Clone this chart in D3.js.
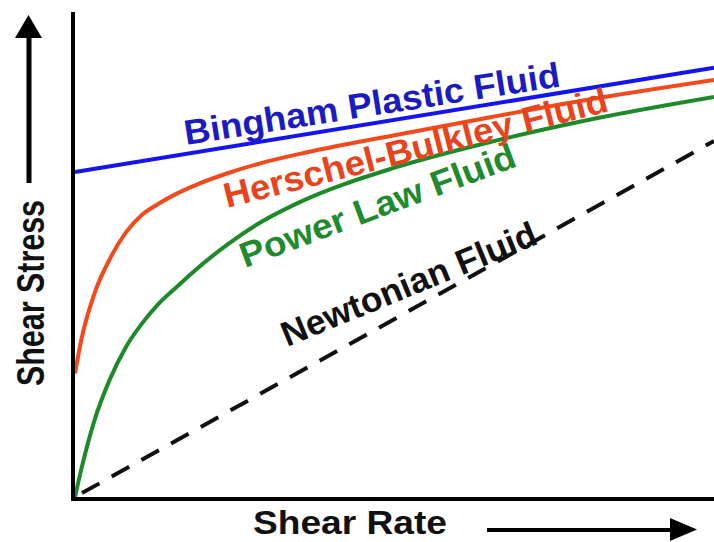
<!DOCTYPE html>
<html><head><meta charset="utf-8">
<script src="https://cdn.jsdelivr.net/npm/d3@7"></script>
<style>body{margin:0;background:#fff} svg{display:block}</style>
</head><body><svg id="c" width="714" height="542"></svg>
<script>
// Data (arbitrary units, 0-100 on both axes)
const shearRate       = [0, 1, 3, 5.5, 8, 10.5, 13, 16, 18.5, 24, 29, 35, 50, 65, 82, 100];
const herschelBulkley = [25.5, 32.5, 41.8, 49.2, 54.6, 58.2, 60.4, 62.6, 64.1, 66.8, 68.8, 70.7, 74.6, 78.3, 82.3, 86];
const powerLaw        = [0, 5.8, 15.6, 24.4, 31.0, 35.8, 39.7, 43.4, 46.4, 52.2, 56.6, 60.7, 67.9, 73.2, 78.2, 82.5];
const binghamRate     = [0, 100];
const bingham         = [67, 88.5];
const newtonianRate   = [0, 100];
const newtonian       = [0, 73.4];
const seriesNames     = ["Bingham Plastic Fluid", "Herschel-Bulkley Fluid", "Power Law Fluid", "Newtonian Fluid"];
const axisTitles      = ["Shear Rate", "Shear Stress"];

const svg = d3.select("#c");
const x = d3.scaleLinear().domain([0, 100]).range([75, 714]);
const y = d3.scaleLinear().domain([0, 100]).range([497, 12]);
const FONT = "'Liberation Sans', Arial, Helvetica, sans-serif";

const line = d3.line().x(d => x(d[0])).y(d => y(d[1])).curve(d3.curveMonotoneX);
const zip = (a, b) => a.map((v, i) => [v, b[i]]);

// curves
svg.append("path").attr("d", line(zip(newtonianRate, newtonian)))
  .attr("fill", "none").attr("stroke", "#111").attr("stroke-width", 4)
  .attr("stroke-dasharray", "20,14").attr("stroke-dashoffset", -8);
svg.append("path").attr("d", line(zip(shearRate, powerLaw)))
  .attr("fill", "none").attr("stroke", "#1d8a2a").attr("stroke-width", 4);
svg.append("path").attr("d", line(zip(shearRate, herschelBulkley)))
  .attr("fill", "none").attr("stroke", "#f24a1c").attr("stroke-width", 4);
svg.append("path").attr("d", line(zip(binghamRate, bingham)))
  .attr("fill", "none").attr("stroke", "#1414f0").attr("stroke-width", 4);

// axes
const gx = svg.append("g").attr("transform", "translate(0,499)")
  .call(d3.axisBottom(x).tickValues([]).tickSizeOuter(0));
gx.select(".domain").attr("stroke", "#000").attr("stroke-width", 4)
  .attr("d", `M${x(0) - 3},0H${x(100)}`);
const gy = svg.append("g").attr("transform", "translate(73,0)")
  .call(d3.axisLeft(y).tickValues([]).tickSizeOuter(0));
gy.select(".domain").attr("stroke", "#000").attr("stroke-width", 4)
  .attr("d", `M0,${y(100)}V${y(0) + 4}`);

// curve labels
const labelLayout = [
  {x: 186, y: 145, angle: -8.9, len: 380, size: 35, color: "#1b1bc4"},
  {x: 227, y: 208, angle: -14.2, len: 395, size: 35, color: "#e8431c"},
  {x: 245, y: 268, angle: -20.5, len: 292, size: 35, color: "#1f8a2e"},
  {x: 287, y: 347, angle: -22.3, len: 273, size: 35, color: "#111"}
];
seriesNames.forEach((name, i) => {
  const L = labelLayout[i];
  svg.append("text").text(name)
    .attr("transform", `translate(${L.x},${L.y}) rotate(${L.angle})`)
    .attr("font-family", FONT).attr("font-weight", "bold").attr("font-size", L.size)
    .attr("fill", L.color).attr("textLength", L.len).attr("lengthAdjust", "spacingAndGlyphs");
});

// axis titles
svg.append("text").text(axisTitles[0])
  .attr("x", 253).attr("y", 534)
  .attr("font-family", FONT).attr("font-weight", "bold").attr("font-size", 34)
  .attr("fill", "#111").attr("textLength", 194).attr("lengthAdjust", "spacingAndGlyphs");
svg.append("text").text(axisTitles[1])
  .attr("transform", "translate(44,386) rotate(-90)")
  .attr("font-family", FONT).attr("font-weight", "bold").attr("font-size", 38)
  .attr("fill", "#111").attr("textLength", 186).attr("lengthAdjust", "spacingAndGlyphs");

// arrows
svg.append("line").attr("x1", 487).attr("x2", 672).attr("y1", 530).attr("y2", 530)
  .attr("stroke", "#000").attr("stroke-width", 4);
svg.append("path").attr("d", "M670,518L697,529.5L670,541Z").attr("fill", "#000");
svg.append("line").attr("x1", 29).attr("x2", 29).attr("y1", 183).attr("y2", 35)
  .attr("stroke", "#000").attr("stroke-width", 5);
svg.append("path").attr("d", "M15,38L28.5,15L42,38Z").attr("fill", "#000");
</script></body></html>
